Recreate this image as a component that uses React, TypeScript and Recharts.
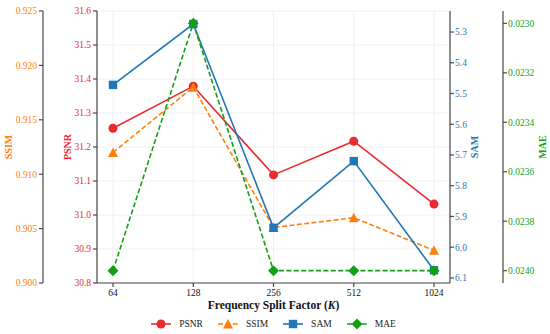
import React from 'react';
import { LineChart, Line, XAxis, YAxis, CartesianGrid, Legend } from 'recharts';

const categories = ['64', '128', '256', '512', '1024'];
const psnrValues = [31.255, 31.379, 31.118, 31.217, 31.032];
const ssimValues = [0.912, 0.918, 0.9051, 0.906, 0.903];
const samValues = [5.472, 5.274, 5.937, 5.72, 6.075];
const maeValues = [0.024, 0.023, 0.024, 0.024, 0.024];

const psnrTicks = [30.8, 30.9, 31.0, 31.1, 31.2, 31.3, 31.4, 31.5, 31.6];
const ssimTicks = [0.9, 0.905, 0.91, 0.915, 0.92, 0.925];
const samTicks = [5.3, 5.4, 5.5, 5.6, 5.7, 5.8, 5.9, 6.0, 6.1];
const maeTicks = [0.023, 0.0232, 0.0234, 0.0236, 0.0238, 0.024];

const data = categories.map((k, i) => ({
  k,
  psnr: psnrValues[i],
  ssim: ssimValues[i],
  sam: samValues[i],
  mae: maeValues[i],
}));

const RED = '#ea2a30';
const ORANGE = '#ff7f0e';
const BLUE = '#1f77b4';
const GREEN = '#14a014';
const SPINE = '#4a4a4a';
const FONT = '"Liberation Serif", "DejaVu Serif", serif';

const tickStyle = (color: string) => ({ fill: color, fontSize: 9.5, fontFamily: FONT });

const marker = (type: string, color: string, cx: number, cy: number, key?: any) => {
  if (type === 'circle') return <circle key={key} cx={cx} cy={cy} r={4.5} fill={color} />;
  if (type === 'triangle')
    return <polygon key={key} points={`${cx},${cy - 5} ${cx - 5},${cy + 4.5} ${cx + 5},${cy + 4.5}`} fill={color} />;
  if (type === 'square') return <rect key={key} x={cx - 4.2} y={cy - 4.2} width={8.4} height={8.4} fill={color} />;
  return <polygon key={key} points={`${cx},${cy - 5.5} ${cx + 5.5},${cy} ${cx},${cy + 5.5} ${cx - 5.5},${cy}`} fill={color} />;
};

const dot = (type: string, color: string) => (props: any) => {
  const { cx, cy, index } = props;
  if (cx == null || cy == null) return <g key={index} />;
  return marker(type, color, cx, cy, index);
};

const yTitle = (text: string, color: string, dx: number) => (props: any) => {
  const vb = props.viewBox;
  const x = vb.x + dx;
  const y = vb.y + vb.height / 2;
  return (
    <text x={x} y={y} transform={`rotate(-90 ${x} ${y})`} textAnchor="middle" dominantBaseline="central"
      fill={color} fontSize={10} fontWeight="bold" fontFamily={FONT}>
      {text}
    </text>
  );
};

const xTitle = (props: any) => {
  const vb = props.viewBox;
  return (
    <text x={vb.x + vb.width / 2} y={vb.y + 26} textAnchor="middle" fill="#111" fontSize={11.5} fontWeight="bold" fontFamily={FONT}>
      Frequency Split Factor (<tspan fontStyle="italic">K</tspan>)
    </text>
  );
};

const legendItems = [
  { name: 'PSNR', color: RED, type: 'circle', dash: undefined },
  { name: 'SSIM', color: ORANGE, type: 'triangle', dash: '5 2.4' },
  { name: 'SAM', color: BLUE, type: 'square', dash: undefined },
  { name: 'MAE', color: GREEN, type: 'diamond', dash: '5 2.4' },
];

const renderLegend = () => (
  <div style={{ display: 'flex', justifyContent: 'center', alignItems: 'center', gap: 15, height: 20, paddingRight: 3, fontFamily: FONT, fontSize: 9.5, color: '#222' }}>
    {legendItems.map((it) => (
      <div key={it.name} style={{ display: 'flex', alignItems: 'center' }}>
        <svg width={20} height={12}>
          <line x1={0} y1={6} x2={20} y2={6} stroke={it.color} strokeWidth={1.6} strokeDasharray={it.dash} />
          {marker(it.type, it.color, 10, 6)}
        </svg>
        <span style={{ marginLeft: 8 }}>{it.name}</span>
      </div>
    ))}
  </div>
);

export default function App() {
  return (
    <div style={{ width: 550, height: 334, background: '#fff', fontFamily: FONT }}>
      <style>{`body{margin:0} .recharts-wrapper, .recharts-wrapper text { font-family: "Liberation Serif", "DejaVu Serif", serif; }`}</style>
      <LineChart width={550} height={334} data={data} margin={{ top: 11, right: 0, bottom: 0, left: 0 }} style={{ fontFamily: FONT }}>
        <CartesianGrid yAxisId="a_psnr" stroke="#ececec" strokeWidth={0.8} />
        <XAxis dataKey="k" height={31} padding={{ left: 16, right: 16 }} stroke={SPINE} strokeWidth={1.2}
          tickSize={4} tickMargin={2} tick={tickStyle('#111')} label={xTitle} />
        <XAxis xAxisId="top" dataKey="k" orientation="top" height={0} padding={{ left: 16, right: 16 }}
          stroke={SPINE} strokeWidth={1.2} tick={false} tickLine={false} />
        <YAxis yAxisId="a_psnr" orientation="left" width={54} domain={[30.8, 31.6]} ticks={psnrTicks}
          tickFormatter={(v: number) => v.toFixed(1)} stroke={SPINE} strokeWidth={1.2} tickSize={4} tickMargin={2}
          tick={tickStyle(RED)} label={yTitle('PSNR', RED, 24)} />
        <YAxis yAxisId="b_ssim" orientation="left" width={43} domain={[0.9, 0.925]} ticks={ssimTicks}
          tickFormatter={(v: number) => v.toFixed(3)} stroke={SPINE} strokeWidth={1.2} tickSize={4} tickMargin={2}
          tick={tickStyle(ORANGE)} label={yTitle('SSIM', ORANGE, 8)} />
        <YAxis yAxisId="c_sam" orientation="right" width={53} domain={[5.2316, 6.1165]} reversed ticks={samTicks}
          tickFormatter={(v: number) => v.toFixed(1)} stroke={SPINE} strokeWidth={1.2} tickSize={4} tickMargin={1}
          tick={tickStyle(BLUE)} label={yTitle('SAM', BLUE, 24)} />
        <YAxis yAxisId="d_mae" orientation="right" width={47} domain={[0.02295, 0.02405]} reversed ticks={maeTicks}
          tickFormatter={(v: number) => v.toFixed(4)} stroke={SPINE} strokeWidth={1.2} tickSize={4} tickMargin={1}
          tick={tickStyle(GREEN)} label={yTitle('MAE', GREEN, 39)} />
        <Legend verticalAlign="bottom" content={renderLegend} />
        <Line yAxisId="a_psnr" dataKey="psnr" stroke={RED} strokeWidth={1.6} dot={dot('circle', RED)} activeDot={false} isAnimationActive={false} />
        <Line yAxisId="b_ssim" dataKey="ssim" stroke={ORANGE} strokeWidth={1.6} strokeDasharray="5 2.4" dot={dot('triangle', ORANGE)} activeDot={false} isAnimationActive={false} />
        <Line yAxisId="c_sam" dataKey="sam" stroke={BLUE} strokeWidth={1.6} dot={dot('square', BLUE)} activeDot={false} isAnimationActive={false} />
        <Line yAxisId="d_mae" dataKey="mae" stroke={GREEN} strokeWidth={1.6} strokeDasharray="5 2.4" dot={dot('diamond', GREEN)} activeDot={false} isAnimationActive={false} />
      </LineChart>
    </div>
  );
}
